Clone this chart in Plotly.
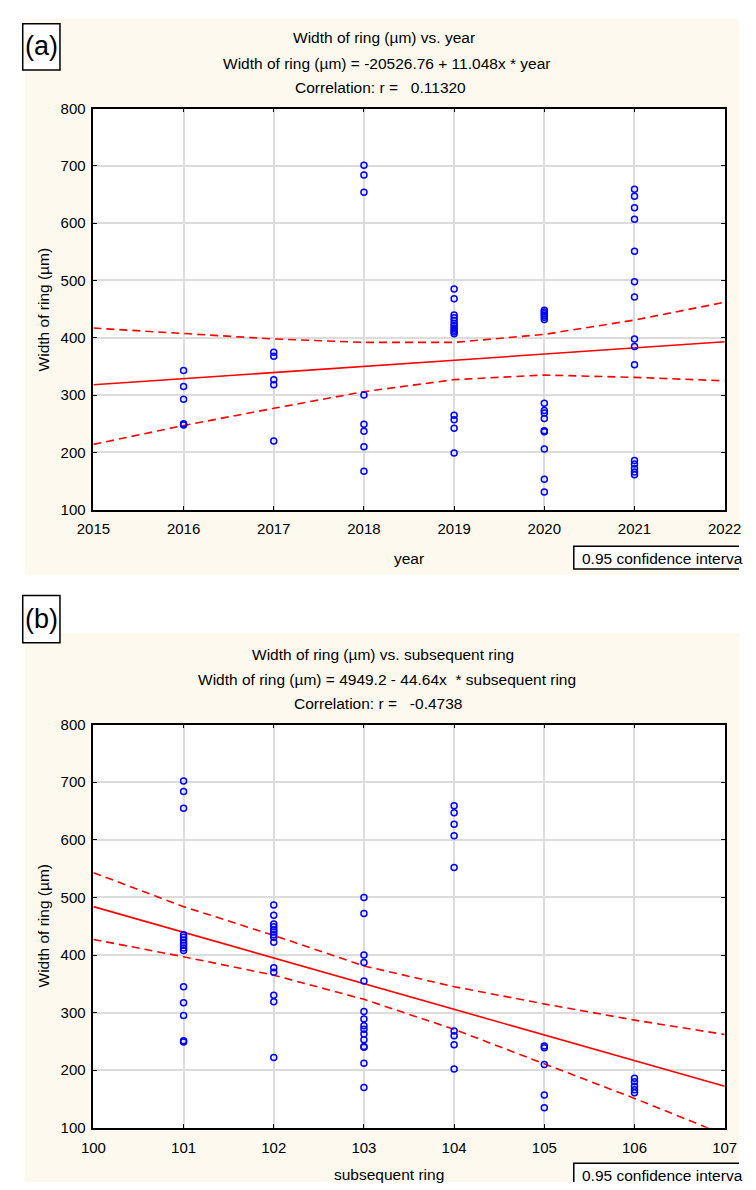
import plotly.graph_objects as go

W, H = 756, 1190

# ---------------- Panel (a): width of ring vs year ----------------
years = [2016, 2017, 2018, 2019, 2020, 2021]
width_2016 = [343, 315, 293, 250, 248]
width_2017 = [375, 368, 327, 318, 220]
width_2018 = [701, 684, 654, 300, 249, 237, 210, 167]
width_2019 = [485, 468, 440, 435, 430, 425, 421, 417, 413, 410, 407, 265, 257, 242, 199]
width_2020 = [448, 445, 442, 439, 436, 432, 286, 273, 269, 259, 238, 236, 206, 153, 131]
width_2021 = [659, 647, 627, 607, 551, 498, 471, 398, 385, 353, 186, 180, 172, 166, 161]
widths_by_year = [width_2016, width_2017, width_2018, width_2019, width_2020, width_2021]

fit_a_x = [2015, 2022]
fit_a_y = [318, 393]
ci_a_x = [2015, 2016, 2017, 2018, 2019, 2020, 2021, 2022]
ci_a_upper = [417, 408, 398, 392, 392, 406, 431, 462]
ci_a_lower = [214, 247, 277, 306, 327, 335, 331, 325]

# ---------------- Panel (b): width of ring vs subsequent ring ----------------
rings = [101, 102, 103, 104, 105, 106]
width_r101 = [702, 684, 655, 435, 431, 426, 421, 417, 412, 408, 345, 317, 295, 251, 249]
width_r102 = [487, 469, 454, 449, 444, 440, 435, 431, 422, 378, 370, 330, 319, 222]
width_r103 = [500, 472, 400, 387, 355, 302, 289, 277, 271, 263, 253, 241, 240, 212, 170]
width_r104 = [659, 647, 627, 607, 552, 268, 260, 244, 202]
width_r105 = [242, 239, 210, 157, 135]
width_r106 = [186, 180, 172, 166, 161]
widths_by_ring = [width_r101, width_r102, width_r103, width_r104, width_r105, width_r106]

fit_b_x = [100, 107]
fit_b_y = [484, 172]
ci_b_x = [100, 101, 102, 103, 104, 105, 106, 107]
ci_b_upper = [543, 484, 434, 381, 345, 315, 287, 262]
ci_b_lower = [427, 397, 365, 323, 271, 211, 151, 88]

y_ticks = [100, 200, 300, 400, 500, 600, 700, 800]
x_ticks_a = [2015, 2016, 2017, 2018, 2019, 2020, 2021, 2022]
x_ticks_b = [100, 101, 102, 103, 104, 105, 106, 107]


def px(x):
    return x / W


def py(y):
    return 1 - y / H


FONT = "Liberation Sans, Arial, sans-serif"
CREAM = "#fdf9ee"
BLUE = "#0000ff"
RED = "#ff0000"

fig = go.Figure()


def add_panel(cats, groups, fit_x, fit_y, ci_x, ci_up, ci_lo, xa, ya):
    xs, ys = [], []
    for c, g in zip(cats, groups):
        xs += [c] * len(g)
        ys += g
    fig.add_trace(go.Scatter(x=fit_x, y=fit_y, mode="lines", xaxis=xa, yaxis=ya,
                             line=dict(color=RED, width=1.6), showlegend=False, hoverinfo="skip"))
    for band in (ci_up, ci_lo):
        fig.add_trace(go.Scatter(x=ci_x, y=band, mode="lines", xaxis=xa, yaxis=ya,
                                 line=dict(color=RED, width=1.6, dash="8px,5px"),
                                 showlegend=False, hoverinfo="skip"))
    fig.add_trace(go.Scatter(x=xs, y=ys, mode="markers", xaxis=xa, yaxis=ya,
                             marker=dict(symbol="circle-open", size=6, color=BLUE,
                                         line=dict(color=BLUE, width=1.5)),
                             showlegend=False, cliponaxis=False))


add_panel(years, widths_by_year, fit_a_x, fit_a_y, ci_a_x, ci_a_upper, ci_a_lower, "x", "y")
add_panel(rings, widths_by_ring, fit_b_x, fit_b_y, ci_b_x, ci_b_upper, ci_b_lower, "x2", "y2")

axis_common = dict(showline=True, linecolor="black", linewidth=1.5, mirror="ticks",
                   ticks="inside", ticklen=4, tickcolor="black", tickwidth=1.2,
                   showgrid=True, gridcolor="#dcdcdc", gridwidth=2, zeroline=False,
                   tickfont=dict(family=FONT, size=15, color="black"))

fig.update_layout(
    width=W, height=H,
    margin=dict(l=0, r=0, t=0, b=0),
    paper_bgcolor="white", plot_bgcolor="white",
    font=dict(family=FONT, color="black"),
    xaxis=dict(domain=[px(80), px(741)], range=[2015, 2022], tickvals=x_ticks_a,
               anchor="y", ticklabelstandoff=5, **axis_common),
    yaxis=dict(domain=[py(508), py(101)], range=[100, 800], tickvals=y_ticks,
               anchor="x", ticklabelstandoff=3, **axis_common),
    xaxis2=dict(domain=[px(80), px(741)], range=[100, 107], tickvals=x_ticks_b,
                anchor="y2", ticklabelstandoff=5, **axis_common),
    yaxis2=dict(domain=[py(1135), py(726)], range=[100, 800], tickvals=y_ticks,
                anchor="x2", ticklabelstandoff=3, **axis_common),
)

shapes = []
# cream panel backgrounds
shapes.append(dict(type="rect", xref="paper", yref="paper", x0=px(8), x1=1,
                   y0=py(574), y1=py(10), fillcolor=CREAM, line=dict(width=0), layer="below"))
shapes.append(dict(type="rect", xref="paper", yref="paper", x0=px(8), x1=1,
                   y0=0, y1=py(633), fillcolor=CREAM, line=dict(width=0), layer="below"))
# white plot areas
shapes.append(dict(type="rect", xref="paper", yref="paper", x0=px(80), x1=px(741),
                   y0=py(508), y1=py(101), fillcolor="white", line=dict(width=0), layer="below"))
shapes.append(dict(type="rect", xref="paper", yref="paper", x0=px(80), x1=px(741),
                   y0=py(1135), y1=py(726), fillcolor="white", line=dict(width=0), layer="below"))
# panel label boxes
for top, bot in ((15, 62), (595, 643)):
    shapes.append(dict(type="rect", xref="paper", yref="paper", x0=px(6), x1=px(45),
                       y0=py(bot), y1=py(top), fillcolor="white",
                       line=dict(color="black", width=1.5)))
# confidence interval legend boxes (run past the right edge of the picture)
shapes.append(dict(type="rect", xref="paper", yref="paper", x0=px(583), x1=1,
                   y0=py(568), y1=py(545), fillcolor="white", line=dict(width=0)))
shapes.append(dict(type="path", xref="paper", yref="paper",
                   path=f"M 1 {py(545)} L {px(583)} {py(545)} L {px(583)} {py(568)} L 1 {py(568)}",
                   line=dict(color="black", width=1.5)))
shapes.append(dict(type="rect", xref="paper", yref="paper", x0=px(583), x1=1,
                   y0=0, y1=py(1171), fillcolor="white", line=dict(width=0)))
shapes.append(dict(type="path", xref="paper", yref="paper",
                   path=f"M 1 {py(1171)} L {px(583)} {py(1171)} L {px(583)} 0",
                   line=dict(color="black", width=1.5)))
fig.update_layout(shapes=shapes)

ann = []


def text(x, y, s, size=15.5, xanchor="center", angle=0):
    ann.append(dict(x=px(x), y=py(y), xref="paper", yref="paper", text=s, showarrow=False,
                    xanchor=xanchor, yanchor="middle", textangle=angle,
                    font=dict(family=FONT, size=size, color="black")))


text(25.5, 38, "(a)", size=27)
text(25.5, 619, "(b)", size=27)

text(384, 29, "Width of ring (µm) vs. year")
text(387, 55, "Width of ring (µm) = -20526.76 + 11.048x * year")
text(381, 80, "Correlation: r =   0.11320")

text(383, 655, "Width of ring (µm) vs. subsequent ring")
text(387, 680, "Width of ring (µm) = 4949.2 - 44.64x  * subsequent ring")
text(378, 705, "Correlation: r =   -0.4738")

text(28, 305, "Width of ring (µm)", angle=-90)
text(28, 930, "Width of ring (µm)", angle=-90)
text(410, 557, "year")
text(390, 1182, "subsequent ring")

text(589, 557, "0.95 confidence interva", xanchor="left")
text(589, 1183, "0.95 confidence interva", xanchor="left")

fig.update_layout(annotations=ann)

fig.write_html(
    "out.html",
    config={"displayModeBar": False},
    post_script="document.body.style.margin='0';document.body.style.overflow='hidden';"
                "document.documentElement.style.overflow='hidden';",
)
